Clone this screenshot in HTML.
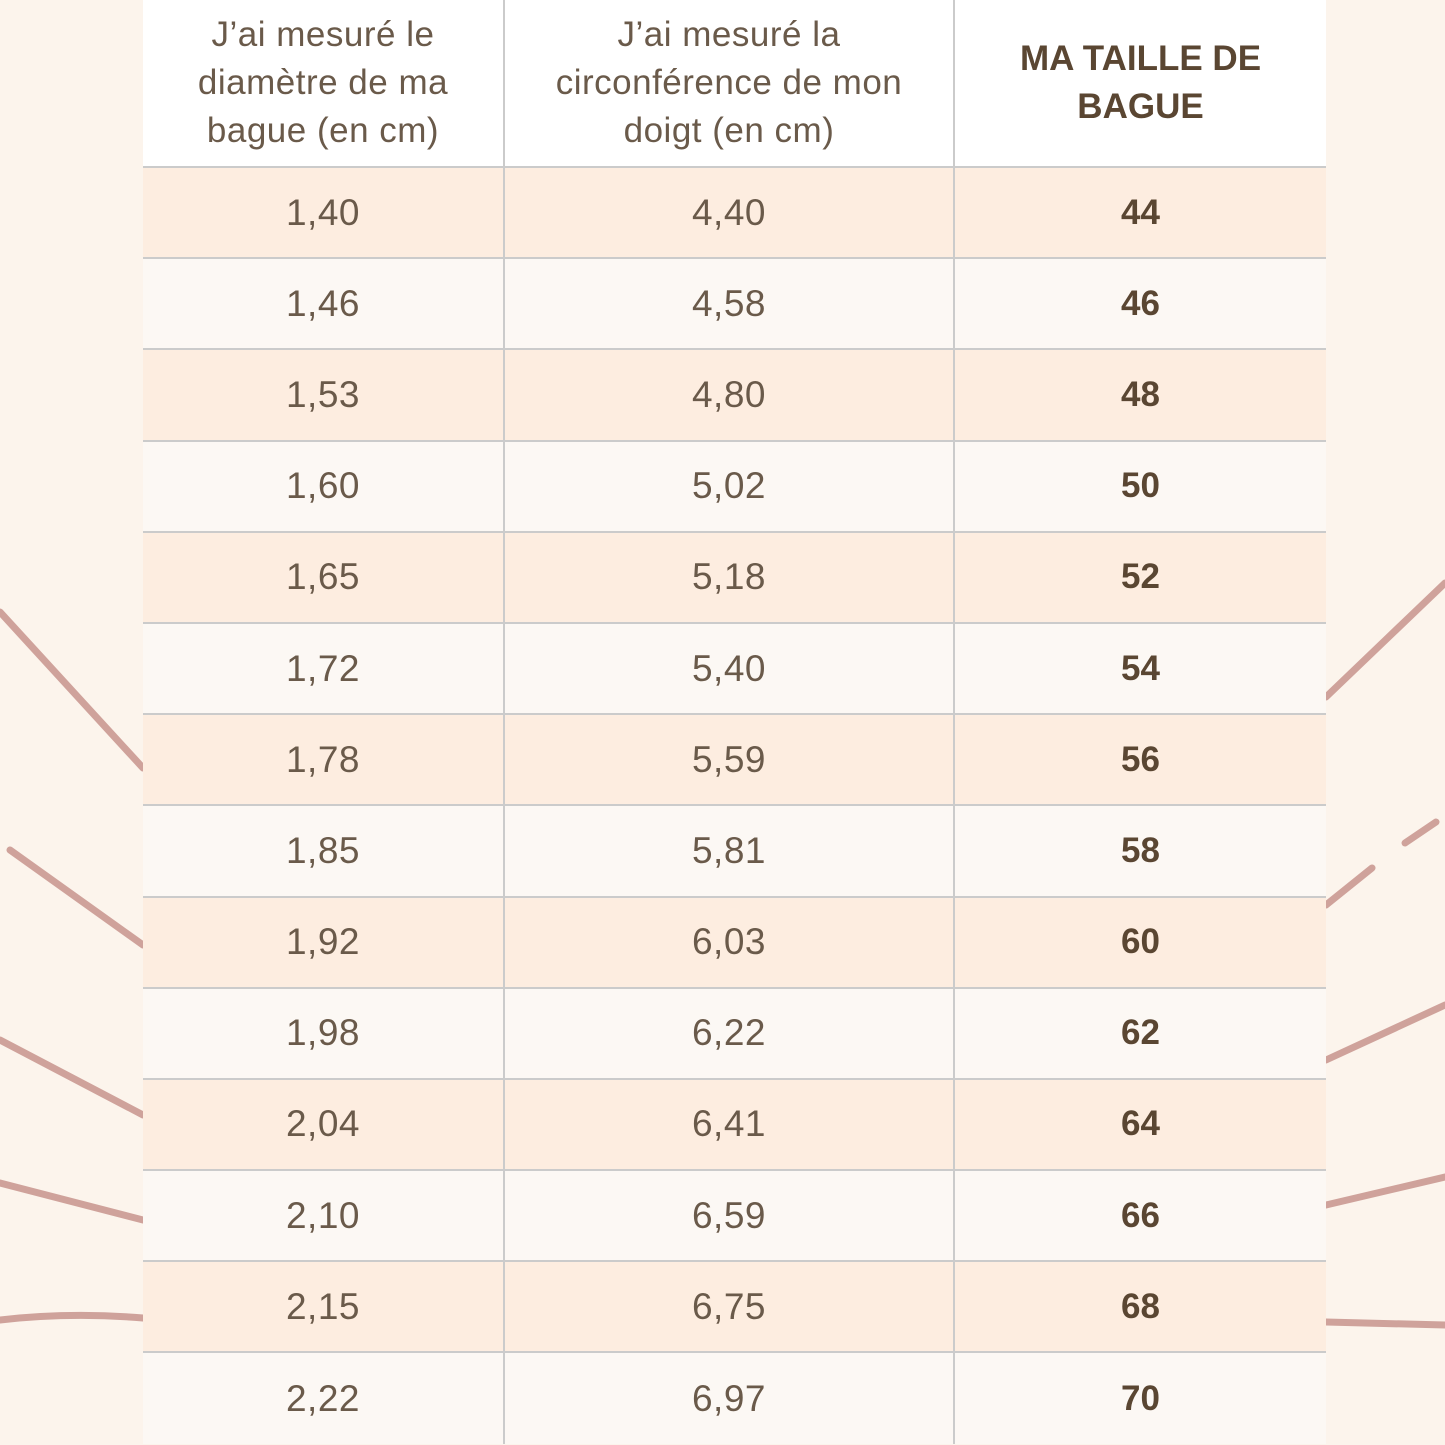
<!DOCTYPE html>
<html><head><meta charset="utf-8"><style>
body{margin:0;width:1445px;height:1445px;background:#fcf4ec;position:relative;overflow:hidden;font-family:"Liberation Sans",sans-serif}
svg{position:absolute;left:0;top:0}
table{position:absolute;left:143px;top:0;width:1183px;border-collapse:collapse;table-layout:fixed}
td{text-align:center;color:#6a5a4a;font-size:37px;letter-spacing:0.5px;border:2px solid #cbcbcb;border-top:none;padding:0;height:89.2px}
tr td:first-child{border-left:none}tr td:last-child{border-right:none}
tr:last-child td{border-bottom:none;height:91px}
tr.h td{background:#fff;height:166px;font-size:35px;line-height:48px}
td.b{font-weight:bold;color:#5a4632;font-size:35px;letter-spacing:0}
tr.o td{background:#fdede0}tr.e td{background:#fcf8f4}
</style></head><body>
<svg width="1445" height="1445"><g stroke="#cfa29b" stroke-width="7" stroke-linecap="round" fill="none">
<path d="M0 612L143 768"/><path d="M10 850L143 945"/><path d="M0 1040L143 1115"/><path d="M0 1183L143 1220"/><path d="M0 1320Q70 1312 143 1318"/>
<path d="M1326 697L1445 583"/><path d="M1326 905L1372 868"/><path d="M1405 843L1436 822"/><path d="M1326 1060L1445 1005"/><path d="M1326 1205L1445 1177"/><path d="M1326 1322L1445 1325"/>
</g></svg>
<table>
<col style="width:361px"><col style="width:450px"><col style="width:372px">
<tr class="h"><td>J’ai mesuré le<br>diamètre de ma<br>bague (en cm)</td><td>J’ai mesuré la<br>circonférence de mon<br>doigt (en cm)</td><td class="b">MA TAILLE DE<br>BAGUE</td></tr>
<tr class="o"><td>1,40</td><td>4,40</td><td class="b">44</td></tr>
<tr class="e"><td>1,46</td><td>4,58</td><td class="b">46</td></tr>
<tr class="o"><td>1,53</td><td>4,80</td><td class="b">48</td></tr>
<tr class="e"><td>1,60</td><td>5,02</td><td class="b">50</td></tr>
<tr class="o"><td>1,65</td><td>5,18</td><td class="b">52</td></tr>
<tr class="e"><td>1,72</td><td>5,40</td><td class="b">54</td></tr>
<tr class="o"><td>1,78</td><td>5,59</td><td class="b">56</td></tr>
<tr class="e"><td>1,85</td><td>5,81</td><td class="b">58</td></tr>
<tr class="o"><td>1,92</td><td>6,03</td><td class="b">60</td></tr>
<tr class="e"><td>1,98</td><td>6,22</td><td class="b">62</td></tr>
<tr class="o"><td>2,04</td><td>6,41</td><td class="b">64</td></tr>
<tr class="e"><td>2,10</td><td>6,59</td><td class="b">66</td></tr>
<tr class="o"><td>2,15</td><td>6,75</td><td class="b">68</td></tr>
<tr class="e"><td>2,22</td><td>6,97</td><td class="b">70</td></tr>
</table>
</body></html>
